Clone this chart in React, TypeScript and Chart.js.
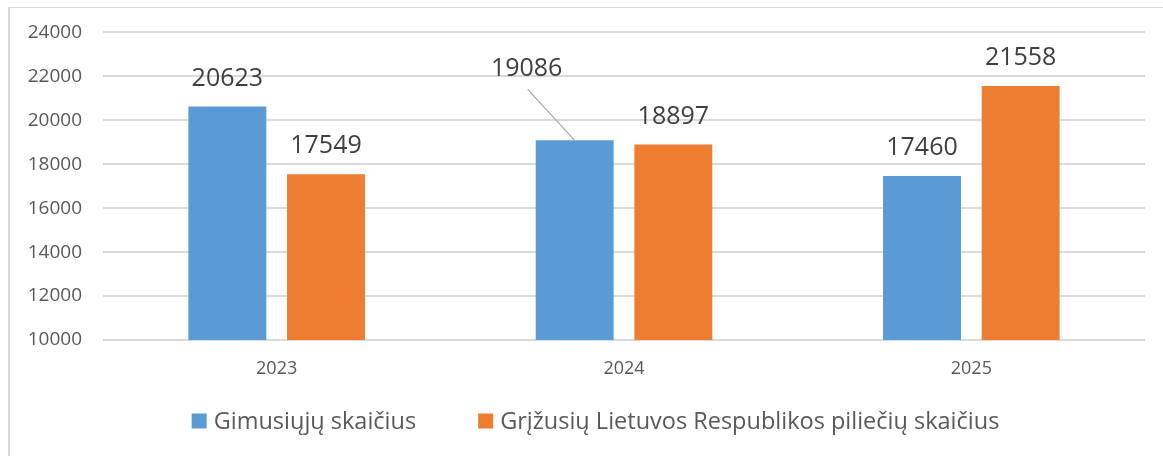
import React, { useEffect, useRef } from "react";
import { Chart, registerables } from "chart.js";

Chart.register(...registerables);

const categories = ["2023", "2024", "2025"];
const births = [20623, 19086, 17460];
const returned = [17549, 18897, 21558];
const seriesNames = ["Gimusiųjų skaičius", "Grįžusių Lietuvos Respublikos piliečių skaičius"];
const seriesColors = ["#5B9BD5", "#ED7D31"];
const yMin = 10000;
const yMax = 24000;
const yStep = 2000;

const FONT = "'Open Sans', sans-serif";

const dataLabelPlugin = {
  id: "dataLabels",
  afterDatasetsDraw(chart: any) {
    const ctx = chart.ctx;
    ctx.save();
    ctx.font = `25px ${FONT}`;
    ctx.fillStyle = "#404040";
    ctx.textAlign = "center";
    ctx.textBaseline = "middle";
    chart.data.datasets.forEach((ds: any, di: number) => {
      const meta = chart.getDatasetMeta(di);
      meta.data.forEach((bar: any, i: number) => {
        const v = ds.data[i];
        let x = bar.x;
        let y = bar.y - 28;
        const moved = di === 0 && i === 1;
        if (moved) {
          x = bar.x - 48;
          y = bar.y - 71;
          ctx.save();
          ctx.strokeStyle = "#a6a6a6";
          ctx.lineWidth = 1.2;
          ctx.beginPath();
          ctx.moveTo(x + 1, y + 20);
          ctx.lineTo(bar.x, bar.y);
          ctx.stroke();
          ctx.restore();
        }
        ctx.fillText(String(v), x, y);
      });
    });
    ctx.restore();
  },
};

const legendPlugin = {
  id: "customLegend",
  afterDraw(chart: any) {
    const ctx = chart.ctx;
    ctx.save();
    ctx.font = `23.5px ${FONT}`;
    ctx.textBaseline = "middle";
    ctx.textAlign = "left";
    const box = 15;
    const gapText = 7;
    const gapItems = 62;
    const widths = chart.data.datasets.map((ds: any) => ctx.measureText(ds.label).width);
    const total = widths.reduce((a: number, w: number) => a + box + gapText + w, 0) + gapItems * (widths.length - 1);
    let x = 595.5 - total / 2;
    const cy = 421;
    chart.data.datasets.forEach((ds: any, i: number) => {
      ctx.fillStyle = ds.backgroundColor;
      ctx.fillRect(x, cy - box / 2, box, box);
      x += box + gapText;
      ctx.fillStyle = "#595959";
      ctx.fillText(ds.label, x, cy + 1);
      x += widths[i] + gapItems;
    });
    ctx.restore();
  },
};

export default function App() {
  const ref = useRef<HTMLCanvasElement>(null);
  useEffect(() => {
    if (!ref.current) return;
    const chart = new Chart(ref.current, {
      type: "bar",
      data: {
        labels: categories,
        datasets: [
          {
            label: seriesNames[0],
            data: births,
            backgroundColor: seriesColors[0],
            categoryPercentage: 0.568,
            barPercentage: 0.79,
          },
          {
            label: seriesNames[1],
            data: returned,
            backgroundColor: seriesColors[1],
            categoryPercentage: 0.568,
            barPercentage: 0.79,
          },
        ],
      },
      options: {
        animation: false,
        responsive: false,
        maintainAspectRatio: false,
        layout: { padding: { left: 20, right: 18, top: 25, bottom: 0 } },
        plugins: {
          tooltip: { enabled: false },
          legend: { display: false },
        },
        scales: {
          x: {
            grid: { display: false, drawTicks: false },
            border: { display: false },
            ticks: { color: "#595959", font: { family: FONT, size: 18 }, padding: 18 },
            afterFit(scale: any) {
              scale.height = 116;
            },
          },
          y: {
            min: yMin,
            max: yMax,
            grid: { color: "#dadada", lineWidth: 2, drawTicks: false },
            border: { display: false },
            ticks: {
              stepSize: yStep,
              color: "#595959",
              font: { family: FONT, size: 19 },
              padding: 21,
              callback: (v: any) => String(v),
            },
            afterFit(scale: any) {
              scale.width = 83;
            },
          },
        },
      },
      plugins: [dataLabelPlugin, legendPlugin],
    });
    return () => chart.destroy();
  }, []);
  return (
    <div style={{ position: "fixed", left: 0, top: 0, width: 1163, height: 456, background: "#fff" }}>
      <div
        style={{
          position: "absolute",
          left: 8,
          top: 7,
          right: 0,
          bottom: 0,
          borderTop: "1px solid #d9d9d9",
          borderLeft: "2px solid #d9d9d9",
        }}
      />
      <canvas ref={ref} width={1163} height={456} style={{ position: "absolute", left: 0, top: 0 }} />
    </div>
  );
}
